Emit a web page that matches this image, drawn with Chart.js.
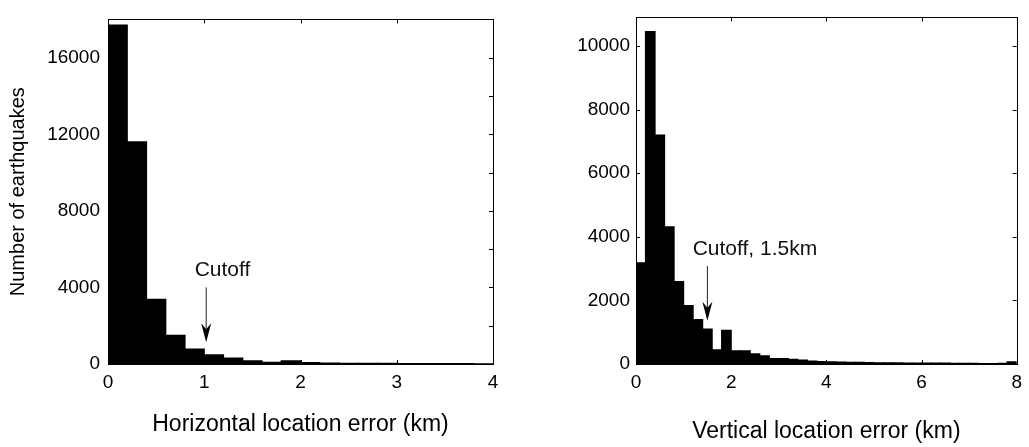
<!DOCTYPE html>
<html>
<head>
<meta charset="utf-8">
<script src="https://cdn.jsdelivr.net/npm/chart.js@4/dist/chart.umd.min.js"></script>
<style>
  html, body { margin: 0; padding: 0; background: #fff; }
  #wrap { position: relative; width: 1029px; height: 447px; overflow: hidden; }
  canvas { position: absolute; top: 0; }
  #horiz { left: 0; }
  #vert { left: 514px; }
</style>
</head>
<body>
<div id="wrap">
  <canvas id="horiz" width="514" height="447"></canvas>
  <canvas id="vert" width="515" height="447"></canvas>
</div>
<script>
// Histogram bin width (km) shared by both panels
const binWidth = 0.2;

// Horizontal location error: counts per 0.2 km bin, 0 to 4 km
const horizCounts = [17700, 11600, 3380, 1500, 780, 480, 310, 170, 90, 170,
                     70, 45, 35, 30, 30, 25, 25, 15, 15, 12];

// Vertical location error: counts per 0.2 km bin, 0 to 8 km
const vertCounts = [3180, 10450, 7200, 4310, 2590, 1840, 1400, 1100, 445, 1060,
                    415, 415, 320, 260, 170, 170, 150, 120, 90, 75,
                    65, 60, 55, 50, 45, 40, 35, 35, 30, 30,
                    25, 25, 25, 20, 20, 20, 15, 15, 20, 65];

// Axis ranges and ticks
const horizXRange = [0, 4];
const horizXTicks = [0, 1, 2, 3, 4];
const horizYRange = [0, 18000];
const horizYTicks = [0, 2000, 4000, 6000, 8000, 10000, 12000, 14000, 16000, 18000];
const horizYLabels = [0, 4000, 8000, 12000, 16000];

const vertXRange = [0, 8];
const vertXTicks = [0, 2, 4, 6, 8];
const vertYRange = [0, 10900];
const vertYTicks = [0, 2000, 4000, 6000, 8000, 10000];
const vertYLabels = [0, 2000, 4000, 6000, 8000, 10000];

// Axis titles
const horizXTitle = 'Horizontal location error (km)';
const vertXTitle = 'Vertical location error (km)';
const yTitle = 'Number of earthquakes';

// Cutoff markers: arrow x, arrow top/tip counts, label position and text
const horizCutoffX = 1.02;
const horizArrowY = [4000, 1130];
const horizCutoffLabel = 'Cutoff';
const horizLabelPos = [0.9, 4900];

const vertCutoffX = 1.5;
const vertArrowY = [3080, 1360];
const vertCutoffLabel = 'Cutoff, 1.5km';
const vertLabelPos = [1.19, 3600];

const FONT = "'Liberation Sans', Arial, Helvetica, sans-serif";

// Draws the boxed frame with inward ticks on all four sides, plus the cutoff arrow and label
const boxPlugin = {
  id: 'boxFrame',
  afterDatasetsDraw(chart, args, opts) {
    const { ctx, chartArea: a, scales: { x, y } } = chart;
    const tick = 4;
    ctx.save();
    ctx.strokeStyle = '#000';
    ctx.lineWidth = 1;
    ctx.beginPath();
    for (const v of opts.xTicks) {
      const px = Math.round(x.getPixelForValue(v)) + 0.5;
      ctx.moveTo(px, a.bottom); ctx.lineTo(px, a.bottom - tick);
      ctx.moveTo(px, a.top); ctx.lineTo(px, a.top + tick);
    }
    for (const v of opts.yTicks) {
      const py = Math.round(y.getPixelForValue(v)) + 0.5;
      ctx.moveTo(a.left, py); ctx.lineTo(a.left + tick, py);
      ctx.moveTo(a.right, py); ctx.lineTo(a.right - tick, py);
    }
    ctx.stroke();
    ctx.strokeRect(Math.round(a.left) + 0.5, Math.round(a.top) + 0.5,
                   Math.round(a.right - a.left), Math.round(a.bottom - a.top));

    // cutoff arrow
    const ax = x.getPixelForValue(opts.arrowX);
    const yTop = y.getPixelForValue(opts.arrowY[0]);
    const yTip = y.getPixelForValue(opts.arrowY[1]);
    const headLen = 19, headHalf = 5, notch = 13;
    ctx.strokeStyle = '#222';
    ctx.lineWidth = 1;
    ctx.beginPath();
    ctx.moveTo(ax, yTop);
    ctx.lineTo(ax, yTip - notch);
    ctx.stroke();
    ctx.fillStyle = '#000';
    ctx.beginPath();
    ctx.moveTo(ax, yTip);
    ctx.lineTo(ax - headHalf, yTip - headLen);
    ctx.lineTo(ax, yTip - notch);
    ctx.lineTo(ax + headHalf, yTip - headLen);
    ctx.closePath();
    ctx.fill();

    // cutoff label
    ctx.font = '21px ' + FONT;
    ctx.fillStyle = '#111';
    ctx.textAlign = 'left';
    ctx.textBaseline = 'middle';
    ctx.fillText(opts.label, x.getPixelForValue(opts.labelPos[0]), y.getPixelForValue(opts.labelPos[1]));
    ctx.restore();
  }
};

function makeHistogram(canvasId, counts, cfg) {
  const points = counts.map((c, i) => ({ x: binWidth * (i + 0.5), y: c }));
  return new Chart(document.getElementById(canvasId), {
    type: 'bar',
    data: {
      datasets: [{
        data: points,
        backgroundColor: '#000',
        borderWidth: 0,
        inflateAmount: 0.6,
        barPercentage: 1,
        categoryPercentage: 1,
        grouped: false
      }]
    },
    plugins: [boxPlugin],
    options: {
      responsive: false,
      devicePixelRatio: 1,
      animation: false,
      events: [],
      layout: { padding: cfg.padding },
      plugins: {
        legend: { display: false },
        tooltip: { enabled: false },
        boxFrame: {
          xTicks: cfg.xTicks,
          yTicks: cfg.yTicks,
          arrowX: cfg.arrowX,
          arrowY: cfg.arrowY,
          label: cfg.label,
          labelPos: cfg.labelPos
        }
      },
      scales: {
        x: {
          type: 'linear',
          min: cfg.xRange[0],
          max: cfg.xRange[1],
          offset: false,
          grid: { display: false, drawTicks: false },
          border: { display: false },
          afterBuildTicks: s => { s.ticks = cfg.xTicks.map(v => ({ value: v })); },
          afterFit: s => { s.height = cfg.xAxisHeight; },
          ticks: {
            padding: 7,
            maxRotation: 0,
            color: '#000',
            font: { family: FONT, size: 19 },
            callback: v => String(v)
          },
          title: {
            display: true,
            text: cfg.xTitle,
            color: '#000',
            font: { family: FONT, size: 23 },
            padding: { top: 0, bottom: cfg.xTitlePad }
          }
        },
        y: {
          type: 'linear',
          min: cfg.yRange[0],
          max: cfg.yRange[1],
          grid: { display: false, drawTicks: false },
          border: { display: false },
          afterBuildTicks: s => { s.ticks = cfg.yTicks.map(v => ({ value: v })); },
          afterFit: s => { s.width = cfg.yAxisWidth; },
          ticks: {
            padding: cfg.yTickPad,
            color: '#000',
            font: { family: FONT, size: 19 },
            callback: v => (cfg.yLabels.includes(v) ? String(v) : '')
          },
          title: {
            display: !!cfg.yTitle,
            text: cfg.yTitle || '',
            color: '#000',
            font: { family: FONT, size: 20 },
            padding: { top: 6, bottom: 0 }
          }
        }
      }
    }
  });
}

makeHistogram('horiz', horizCounts, {
  padding: { top: 9, right: 21, bottom: 0, left: 0 },
  xRange: horizXRange, xTicks: horizXTicks,
  yRange: horizYRange, yTicks: horizYTicks, yLabels: horizYLabels,
  xTitle: horizXTitle, yTitle: yTitle,
  xAxisHeight: 83, xTitlePad: 9,
  yAxisWidth: 108, yTickPad: 8,
  arrowX: horizCutoffX, arrowY: horizArrowY,
  label: horizCutoffLabel, labelPos: horizLabelPos
});

makeHistogram('vert', vertCounts, {
  padding: { top: 9, right: 7, bottom: 0, left: 0 },
  xRange: vertXRange, xTicks: vertXTicks,
  yRange: vertYRange, yTicks: vertYTicks, yLabels: vertYLabels,
  xTitle: vertXTitle, yTitle: null,
  xAxisHeight: 83, xTitlePad: 2,
  yAxisWidth: 122, yTickPad: 6,
  arrowX: vertCutoffX, arrowY: vertArrowY,
  label: vertCutoffLabel, labelPos: vertLabelPos
});
</script>
</body>
</html>
